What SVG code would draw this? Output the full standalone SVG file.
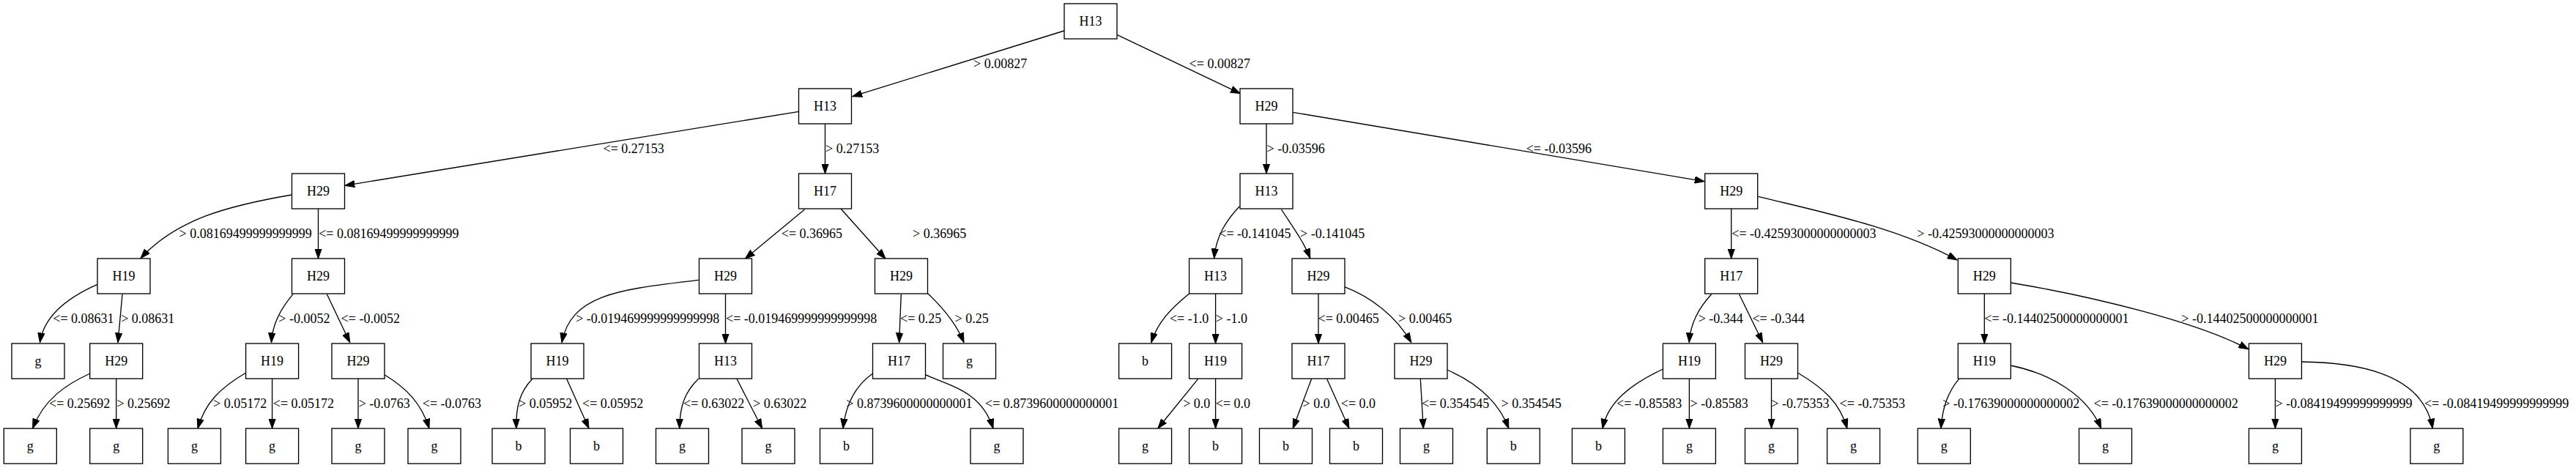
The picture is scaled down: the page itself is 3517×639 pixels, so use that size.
<svg xmlns="http://www.w3.org/2000/svg" width="3517" height="639" viewBox="0 0 3517 639">
<style>
.node rect{fill:#fff;stroke:#000;stroke-width:1.33}
.node text{font-family:"Liberation Serif","Times New Roman",serif;font-size:18px;text-anchor:middle;fill:#000}
.edges path{fill:none;stroke:#000;stroke-width:1.33;marker-end:url(#arr)}
.lbl text{font-family:"Liberation Serif","Times New Roman",serif;font-size:18px;fill:#000}
</style>
<defs>
<marker id="arr" markerUnits="userSpaceOnUse" markerWidth="14" markerHeight="10" viewBox="0 0 14 10" refX="13.3" refY="5" orient="auto">
<path d="M0,0.3 L13.3,5 L0,9.7 Z" fill="#000" stroke="#000" stroke-width="1"/>
</marker>
</defs>
<rect width="3517" height="639" fill="#fff"/>
<g id="edges" class="edges">
<path d="M1453,42 L1163.8,131.7"/>
<path d="M1525.4,47.7 L1693.3,127.7"/>
<path d="M1090.6,152.3 L471,253.3"/>
<path d="M1126.5,169 L1126.5,237"/>
<path d="M1729,169 L1729,237"/>
<path d="M1764.8,153.3 L2327,247.7"/>
<path d="M398.6,266 C310,281 240,300 192,352.7"/>
<path d="M434.5,285 L434.5,353"/>
<path d="M1098.5,286 L1017.3,353.3"/>
<path d="M1148,285 L1209,353.3"/>
<path d="M1692.3,281.7 C1675,300 1660,322 1657.7,352.7"/>
<path d="M1749.5,286 C1765,310 1780,330 1788.8,352.7"/>
<path d="M2363.7,285 L2363.7,353"/>
<path d="M2400.5,268.3 C2480,288 2590,310 2672,355"/>
<path d="M133,388.3 C95,405 60,430 54.5,467.7"/>
<path d="M167,401.7 L161,467.7"/>
<path d="M400,401.7 C385,420 372,440 370.5,467.7"/>
<path d="M446.4,401.7 L477.7,467.7"/>
<path d="M954.5,382.3 C850,395 780,400 767,467.7"/>
<path d="M990.5,401 L990.5,469"/>
<path d="M1230.3,401.7 L1227.6,467.7"/>
<path d="M1267,401 C1285,418 1305,440 1316,467.7"/>
<path d="M1623.6,401 C1600,420 1580,440 1571.9,467.7"/>
<path d="M1659.6,401 L1659.6,469"/>
<path d="M1800,401 L1800,469"/>
<path d="M1835.7,391.7 C1870,405 1905,430 1926.8,467.7"/>
<path d="M2336.6,401.7 C2320,420 2308,440 2306.2,467.7"/>
<path d="M2374.5,401.7 L2406.7,467.7"/>
<path d="M2709.3,401 L2709.3,469"/>
<path d="M2745,386 C2860,405 3000,440 3069.8,476.7"/>
<path d="M122.8,510 C90,525 60,545 44.6,585"/>
<path d="M158.7,517 L158.7,585"/>
<path d="M335.7,509 C300,530 280,550 270,585"/>
<path d="M371.6,517 L371.6,585"/>
<path d="M489,517 L489,585"/>
<path d="M525,511.7 C555,530 575,550 586,585"/>
<path d="M726.8,517.3 C710,535 704,555 705,585"/>
<path d="M773.7,517.3 L804,585"/>
<path d="M953.6,517.3 C935,535 928,555 927.7,585"/>
<path d="M1006,517.3 L1040.6,585"/>
<path d="M1191.5,510 C1170,525 1155,550 1150.9,585"/>
<path d="M1263.4,511.7 C1300,528 1340,535 1356,585"/>
<path d="M1635.7,517.3 L1580.8,585"/>
<path d="M1659.6,517 L1659.6,585"/>
<path d="M1790.6,517.3 L1765.2,585"/>
<path d="M1811.6,517.3 L1842,585"/>
<path d="M1939.3,517.3 L1943.3,585"/>
<path d="M1975.9,505 C2010,520 2045,545 2059.8,585"/>
<path d="M2270.5,504 C2225,525 2195,550 2188,585"/>
<path d="M2306.4,517 L2306.4,585"/>
<path d="M2418.5,517 L2418.5,585"/>
<path d="M2454.4,509 C2490,530 2512,550 2521.9,585"/>
<path d="M2674.5,517.3 C2660,535 2652,555 2650,585"/>
<path d="M2745,499 C2800,510 2850,540 2868.6,585"/>
<path d="M3106.4,517 L3106.4,585"/>
<path d="M3142.5,494 C3240,495 3310,520 3321.3,585"/>
</g>
<g id="edge-labels" class="lbl">
<text x="1329" y="93">&gt; 0.00827</text>
<text x="1623.6" y="93">&lt;= 0.00827</text>
<text x="823.5" y="209">&lt;= 0.27153</text>
<text x="1127" y="209">&gt; 0.27153</text>
<text x="1729.5" y="209">&gt; -0.03596</text>
<text x="2083.7" y="209">&lt;= -0.03596</text>
<text x="244.6" y="325">&gt; 0.08169499999999999</text>
<text x="435.2" y="325">&lt;= 0.08169499999999999</text>
<text x="1066.8" y="325">&lt;= 0.36965</text>
<text x="1246" y="325">&gt; 0.36965</text>
<text x="1664.3" y="325">&lt;= -0.141045</text>
<text x="1775" y="325">&gt; -0.141045</text>
<text x="2364.3" y="325">&lt;= -0.42593000000000003</text>
<text x="2617.3" y="325">&gt; -0.42593000000000003</text>
<text x="72.3" y="441">&lt;= 0.08631</text>
<text x="165.2" y="441">&gt; 0.08631</text>
<text x="380.3" y="441">&gt; -0.0052</text>
<text x="465.6" y="441">&lt;= -0.0052</text>
<text x="786.2" y="441">&gt; -0.019469999999999998</text>
<text x="991" y="441">&lt;= -0.019469999999999998</text>
<text x="1229" y="441">&lt;= 0.25</text>
<text x="1303.5" y="441">&gt; 0.25</text>
<text x="1596.9" y="441">&lt;= -1.0</text>
<text x="1659.8" y="441">&gt; -1.0</text>
<text x="1799.5" y="441">&lt;= 0.00465</text>
<text x="1909" y="441">&gt; 0.00465</text>
<text x="2318.7" y="441">&gt; -0.344</text>
<text x="2392.4" y="441">&lt;= -0.344</text>
<text x="2709.3" y="441">&lt;= -0.14402500000000001</text>
<text x="2978.3" y="441">&gt; -0.14402500000000001</text>
<text x="67" y="557">&lt;= 0.25692</text>
<text x="159.4" y="557">&gt; 0.25692</text>
<text x="291" y="557">&gt; 0.05172</text>
<text x="372.8" y="557">&lt;= 0.05172</text>
<text x="489.7" y="557">&gt; -0.0763</text>
<text x="576.8" y="557">&lt;= -0.0763</text>
<text x="708" y="557">&gt; 0.05952</text>
<text x="795" y="557">&lt;= 0.05952</text>
<text x="933" y="557">&lt;= 0.63022</text>
<text x="1028" y="557">&gt; 0.63022</text>
<text x="1155.3" y="557">&gt; 0.8739600000000001</text>
<text x="1345" y="557">&lt;= 0.8739600000000001</text>
<text x="1615.2" y="557">&gt; 0.0</text>
<text x="1659.8" y="557">&lt;= 0.0</text>
<text x="1778.5" y="557">&gt; 0.0</text>
<text x="1830.8" y="557">&lt;= 0.0</text>
<text x="1941" y="557">&lt;= 0.354545</text>
<text x="2049.5" y="557">&gt; 0.354545</text>
<text x="2207" y="557">&lt;= -0.85583</text>
<text x="2307.6" y="557">&gt; -0.85583</text>
<text x="2418.3" y="557">&gt; -0.75353</text>
<text x="2511.6" y="557">&lt;= -0.75353</text>
<text x="2652.2" y="557">&gt; -0.17639000000000002</text>
<text x="2858.5" y="557">&lt;= -0.17639000000000002</text>
<text x="3106.4" y="557">&gt; -0.08419499999999999</text>
<text x="3309.9" y="557">&lt;= -0.08419499999999999</text>
</g>
<g id="n0" class="node" transform="translate(1489,29)"><rect x="-36" y="-24" width="72" height="48"/><text y="5.5">H13</text></g>
<g id="n1" class="node" transform="translate(1126.5,145)"><rect x="-36" y="-24" width="72" height="48"/><text y="5.5">H13</text></g>
<g id="n2" class="node" transform="translate(1729,145)"><rect x="-36" y="-24" width="72" height="48"/><text y="5.5">H29</text></g>
<g id="n3" class="node" transform="translate(434.5,261)"><rect x="-36" y="-24" width="72" height="48"/><text y="5.5">H29</text></g>
<g id="n4" class="node" transform="translate(1126.5,261)"><rect x="-36" y="-24" width="72" height="48"/><text y="5.5">H17</text></g>
<g id="n5" class="node" transform="translate(1729,261)"><rect x="-36" y="-24" width="72" height="48"/><text y="5.5">H13</text></g>
<g id="n6" class="node" transform="translate(2363.7,261)"><rect x="-36" y="-24" width="72" height="48"/><text y="5.5">H29</text></g>
<g id="n7" class="node" transform="translate(169,377)"><rect x="-36" y="-24" width="72" height="48"/><text y="5.5">H19</text></g>
<g id="n8" class="node" transform="translate(434.5,377)"><rect x="-36" y="-24" width="72" height="48"/><text y="5.5">H29</text></g>
<g id="n9" class="node" transform="translate(990.5,377)"><rect x="-36" y="-24" width="72" height="48"/><text y="5.5">H29</text></g>
<g id="n10" class="node" transform="translate(1230.5,377)"><rect x="-36" y="-24" width="72" height="48"/><text y="5.5">H29</text></g>
<g id="n11" class="node" transform="translate(1659.6,377)"><rect x="-36" y="-24" width="72" height="48"/><text y="5.5">H13</text></g>
<g id="n12" class="node" transform="translate(1800,377)"><rect x="-36" y="-24" width="72" height="48"/><text y="5.5">H29</text></g>
<g id="n13" class="node" transform="translate(2363.7,377)"><rect x="-36" y="-24" width="72" height="48"/><text y="5.5">H17</text></g>
<g id="n14" class="node" transform="translate(2709.3,377)"><rect x="-36" y="-24" width="72" height="48"/><text y="5.5">H29</text></g>
<g id="n15" class="node" transform="translate(52,493)"><rect x="-36" y="-24" width="72" height="48"/><text y="5.5">g</text></g>
<g id="n16" class="node" transform="translate(158.7,493)"><rect x="-36" y="-24" width="72" height="48"/><text y="5.5">H29</text></g>
<g id="n17" class="node" transform="translate(371.6,493)"><rect x="-36" y="-24" width="72" height="48"/><text y="5.5">H19</text></g>
<g id="n18" class="node" transform="translate(489,493)"><rect x="-36" y="-24" width="72" height="48"/><text y="5.5">H29</text></g>
<g id="n19" class="node" transform="translate(761,493)"><rect x="-36" y="-24" width="72" height="48"/><text y="5.5">H19</text></g>
<g id="n20" class="node" transform="translate(990.5,493)"><rect x="-36" y="-24" width="72" height="48"/><text y="5.5">H13</text></g>
<g id="n21" class="node" transform="translate(1227.5,493)"><rect x="-36" y="-24" width="72" height="48"/><text y="5.5">H17</text></g>
<g id="n22" class="node" transform="translate(1323.5,493)"><rect x="-36" y="-24" width="72" height="48"/><text y="5.5">g</text></g>
<g id="n23" class="node" transform="translate(1563.6,493)"><rect x="-36" y="-24" width="72" height="48"/><text y="5.5">b</text></g>
<g id="n24" class="node" transform="translate(1659.6,493)"><rect x="-36" y="-24" width="72" height="48"/><text y="5.5">H19</text></g>
<g id="n25" class="node" transform="translate(1800,493)"><rect x="-36" y="-24" width="72" height="48"/><text y="5.5">H17</text></g>
<g id="n26" class="node" transform="translate(1940,493)"><rect x="-36" y="-24" width="72" height="48"/><text y="5.5">H29</text></g>
<g id="n27" class="node" transform="translate(2306.4,493)"><rect x="-36" y="-24" width="72" height="48"/><text y="5.5">H19</text></g>
<g id="n28" class="node" transform="translate(2418.5,493)"><rect x="-36" y="-24" width="72" height="48"/><text y="5.5">H29</text></g>
<g id="n29" class="node" transform="translate(2709.3,493)"><rect x="-36" y="-24" width="72" height="48"/><text y="5.5">H19</text></g>
<g id="n30" class="node" transform="translate(3106.4,493)"><rect x="-36" y="-24" width="72" height="48"/><text y="5.5">H29</text></g>
<g id="n31" class="node" transform="translate(41.3,609)"><rect x="-36" y="-24" width="72" height="48"/><text y="5.5">g</text></g>
<g id="n32" class="node" transform="translate(158.7,609)"><rect x="-36" y="-24" width="72" height="48"/><text y="5.5">g</text></g>
<g id="n33" class="node" transform="translate(265.4,609)"><rect x="-36" y="-24" width="72" height="48"/><text y="5.5">g</text></g>
<g id="n34" class="node" transform="translate(371.6,609)"><rect x="-36" y="-24" width="72" height="48"/><text y="5.5">g</text></g>
<g id="n35" class="node" transform="translate(489,609)"><rect x="-36" y="-24" width="72" height="48"/><text y="5.5">g</text></g>
<g id="n36" class="node" transform="translate(593,609)"><rect x="-36" y="-24" width="72" height="48"/><text y="5.5">g</text></g>
<g id="n37" class="node" transform="translate(708,609)"><rect x="-36" y="-24" width="72" height="48"/><text y="5.5">b</text></g>
<g id="n38" class="node" transform="translate(814.5,609)"><rect x="-36" y="-24" width="72" height="48"/><text y="5.5">b</text></g>
<g id="n39" class="node" transform="translate(931.5,609)"><rect x="-36" y="-24" width="72" height="48"/><text y="5.5">g</text></g>
<g id="n40" class="node" transform="translate(1049,609)"><rect x="-36" y="-24" width="72" height="48"/><text y="5.5">g</text></g>
<g id="n41" class="node" transform="translate(1155.5,609)"><rect x="-36" y="-24" width="72" height="48"/><text y="5.5">b</text></g>
<g id="n42" class="node" transform="translate(1361,609)"><rect x="-36" y="-24" width="72" height="48"/><text y="5.5">g</text></g>
<g id="n43" class="node" transform="translate(1563.6,609)"><rect x="-36" y="-24" width="72" height="48"/><text y="5.5">g</text></g>
<g id="n44" class="node" transform="translate(1659.6,609)"><rect x="-36" y="-24" width="72" height="48"/><text y="5.5">b</text></g>
<g id="n45" class="node" transform="translate(1755.5,609)"><rect x="-36" y="-24" width="72" height="48"/><text y="5.5">b</text></g>
<g id="n46" class="node" transform="translate(1851.5,609)"><rect x="-36" y="-24" width="72" height="48"/><text y="5.5">b</text></g>
<g id="n47" class="node" transform="translate(1947.5,609)"><rect x="-36" y="-24" width="72" height="48"/><text y="5.5">g</text></g>
<g id="n48" class="node" transform="translate(2066.3,609)"><rect x="-36" y="-24" width="72" height="48"/><text y="5.5">b</text></g>
<g id="n49" class="node" transform="translate(2182.4,609)"><rect x="-36" y="-24" width="72" height="48"/><text y="5.5">b</text></g>
<g id="n50" class="node" transform="translate(2306.4,609)"><rect x="-36" y="-24" width="72" height="48"/><text y="5.5">g</text></g>
<g id="n51" class="node" transform="translate(2418.5,609)"><rect x="-36" y="-24" width="72" height="48"/><text y="5.5">g</text></g>
<g id="n52" class="node" transform="translate(2530.6,609)"><rect x="-36" y="-24" width="72" height="48"/><text y="5.5">g</text></g>
<g id="n53" class="node" transform="translate(2654.3,609)"><rect x="-36" y="-24" width="72" height="48"/><text y="5.5">g</text></g>
<g id="n54" class="node" transform="translate(2874.5,609)"><rect x="-36" y="-24" width="72" height="48"/><text y="5.5">g</text></g>
<g id="n55" class="node" transform="translate(3106.4,609)"><rect x="-36" y="-24" width="72" height="48"/><text y="5.5">g</text></g>
<g id="n56" class="node" transform="translate(3326.8,609)"><rect x="-36" y="-24" width="72" height="48"/><text y="5.5">g</text></g>
</svg>
